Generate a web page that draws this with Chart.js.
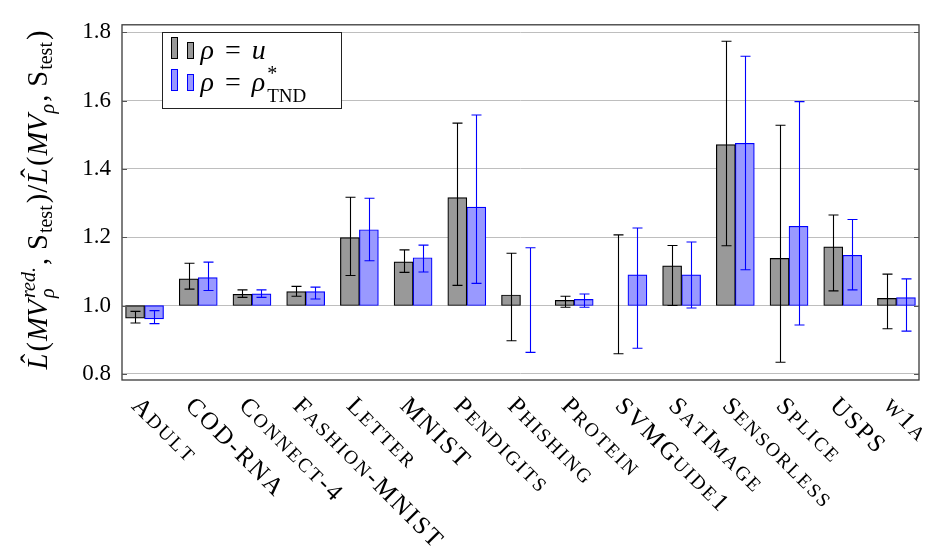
<!DOCTYPE html>
<html><head><meta charset="utf-8">
<script src="https://cdn.jsdelivr.net/npm/chart.js@4/dist/chart.umd.min.js"></script>
<style>html,body{margin:0;padding:0;background:#fff}#wrap{width:925px;height:553px}</style>
</head><body><div id="wrap"><canvas id="c" width="925" height="553"></canvas></div>
<script>
// ---- data ----
const categories = ["Adult","COD-RNA","Connect-4","Fashion-MNIST","Letter","MNIST","Pendigits","Phishing","Protein","SVMGuide1","SatImage","Sensorless","Splice","USPS","w1a"];
const uValues   = [0.963,1.078,1.033,1.041,1.199,1.128,1.316,1.031,1.015,1.000,1.116,1.471,1.138,1.172,1.021];
const uLow      = [0.949,1.048,1.024,1.027,1.088,1.097,1.059,0.897,0.995,0.859,1.000,1.175,0.834,1.043,0.932];
const uHigh     = [0.983,1.124,1.046,1.056,1.317,1.163,1.534,1.153,1.027,1.207,1.176,1.774,1.528,1.265,1.092];
const tndValues = [0.961,1.082,1.034,1.041,1.222,1.140,1.288,1.000,1.018,1.090,1.090,1.475,1.232,1.147,1.023];
const tndLow    = [0.947,1.044,1.024,1.019,1.131,1.098,1.065,0.863,0.995,0.875,0.993,1.105,0.943,1.046,0.925];
const tndHigh   = [0.985,1.127,1.046,1.054,1.314,1.177,1.558,1.169,1.034,1.227,1.186,1.730,1.597,1.252,1.078];
const yTicks = [0.8,1.0,1.2,1.4,1.6,1.8];
const baseline = 1.0;

const SERIF = '"Liberation Serif", "DejaVu Serif", serif';
function fnt(style, size){ return style + ' ' + size + 'px ' + SERIF; }

function layoutRich(ctx, segs){
  let x = 0, prevStart = 0, prevW = 0; const items = [];
  for (const s of segs){
    ctx.font = s.font; const w = ctx.measureText(s.t).width; let sx;
    if (s.over){ sx = prevStart + prevW/2 - w/2; }
    else if (s.stack){ sx = prevStart; const nw = Math.max(prevW, w); x = prevStart + nw; prevW = nw; }
    else { x += (s.gap||0); sx = x; x += w; prevStart = sx; prevW = w; }
    items.push({t:s.t, font:s.font, x:sx, dx:s.dx||0, dy:s.dy||0});
  }
  return {items, width:x};
}
function drawRich(ctx, segs, x0, y0, align){
  const L = layoutRich(ctx, segs); const off = align === 'center' ? -L.width/2 : 0;
  ctx.textAlign = 'left'; ctx.textBaseline = 'alphabetic';
  for (const it of L.items){ ctx.font = it.font; ctx.fillText(it.t, x0 + off + it.x + it.dx, y0 + it.dy); }
}
function drawSmallCaps(ctx, text, x, y, size, spacing){
  let cx = 0; ctx.textAlign = 'left'; ctx.textBaseline = 'alphabetic';
  for (const ch of text){
    const low = ch !== ch.toUpperCase();
    const sz = low ? size*0.78 : size; ctx.font = fnt('normal', sz);
    const c = ch.toUpperCase(); ctx.fillText(c, x + cx, y);
    cx += ctx.measureText(c).width + spacing;
  }
}

const errorBars = {
  id:'errorBars',
  afterDatasetsDraw(chart){
    const ctx = chart.ctx, ys = chart.scales.y;
    chart.data.datasets.forEach((ds, di) => {
      const meta = chart.getDatasetMeta(di);
      meta.data.forEach((bar, i) => {
        const x = Math.round(bar.x) + 0.5;
        const y1 = ys.getPixelForValue(ds.errLow[i]), y2 = ys.getPixelForValue(ds.errHigh[i]);
        ctx.save(); ctx.strokeStyle = ds.errColor; ctx.lineWidth = 1.1;
        ctx.beginPath();
        ctx.moveTo(x, y1); ctx.lineTo(x, y2);
        ctx.moveTo(x-5, y1); ctx.lineTo(x+5, y1);
        ctx.moveTo(x-5, y2); ctx.lineTo(x+5, y2);
        ctx.stroke(); ctx.restore();
      });
    });
  }
};

const decorations = {
  id:'decorations',
  afterDraw(chart){
    const ctx = chart.ctx, a = chart.chartArea, ys = chart.scales.y, xs = chart.scales.x;
    ctx.save();
    // frame
    ctx.strokeStyle = '#3a3a3a'; ctx.lineWidth = 1.3;
    ctx.strokeRect(a.left, a.top, a.right - a.left, a.bottom - a.top);
    // inner tick marks
    ctx.lineWidth = 1; ctx.strokeStyle = '#555';
    ctx.beginPath();
    yTicks.forEach(v => { const y = Math.round(ys.getPixelForValue(v)) + 0.5;
      ctx.moveTo(a.left, y); ctx.lineTo(a.left + 5, y);
      ctx.moveTo(a.right - 5, y); ctx.lineTo(a.right, y); });
    ctx.stroke();
    // category labels (small caps, rotated)
    ctx.fillStyle = '#000';
    categories.forEach((c, i) => {
      const px = xs.getPixelForValue(i);
      ctx.save(); ctx.translate(px - 14, a.bottom + 27); ctx.rotate(Math.PI/4);
      drawSmallCaps(ctx, c, 0, 0, 25, 2.2);
      ctx.restore();
    });
    // y title
    const S = 28.5, s = 20;
    const titleSegs = [
      {t:'L', font:fnt('italic', S)}, {t:'ˆ', font:fnt('normal', S), over:true, dx:3, dy:-6},
      {t:'(', font:fnt('normal', S), gap:2},
      {t:'MV', font:fnt('italic', S), gap:1},
      {t:'red.', font:fnt('italic', s), dy:-12, gap:2},
      {t:'ρ', font:fnt('italic', s), dy:7, stack:true},
      {t:',', font:fnt('normal', S), gap:2},
      {t:'S', font:fnt('normal', S), gap:8},
      {t:'test', font:fnt('normal', s), dy:5, gap:1},
      {t:')', font:fnt('normal', S), gap:2},
      {t:'/', font:fnt('normal', S), gap:1},
      {t:'L', font:fnt('italic', S), gap:1}, {t:'ˆ', font:fnt('normal', S), over:true, dx:3, dy:-6},
      {t:'(', font:fnt('normal', S), gap:2},
      {t:'MV', font:fnt('italic', S), gap:1},
      {t:'ρ', font:fnt('italic', s), dy:7, gap:1},
      {t:',', font:fnt('normal', S), gap:2},
      {t:'S', font:fnt('normal', S), gap:8},
      {t:'test', font:fnt('normal', s), dy:5, gap:1},
      {t:')', font:fnt('normal', S), gap:2}
    ];
    ctx.save(); ctx.translate(46.5, 200); ctx.rotate(-Math.PI/2);
    drawRich(ctx, titleSegs, 0, 0, 'center');
    ctx.restore();
    // legend
    ctx.fillStyle = '#fff'; ctx.fillRect(162.5, 32.5, 179, 76);
    ctx.strokeStyle = '#222'; ctx.lineWidth = 1; ctx.strokeRect(162.5, 32.5, 179, 76);
    const icon = (x, y, w, h, fill, stroke) => { ctx.fillStyle = fill; ctx.fillRect(x, y, w, h); ctx.strokeStyle = stroke; ctx.strokeRect(x, y, w, h); };
    const ds = chart.data.datasets;
    icon(171.5, 37.5, 6, 21, ds[0].backgroundColor, ds[0].borderColor);
    icon(187.5, 42.5, 6, 16, ds[0].backgroundColor, ds[0].borderColor);
    icon(171.5, 69.5, 6, 21, ds[1].backgroundColor, ds[1].borderColor);
    icon(187.5, 74.5, 6, 16, ds[1].backgroundColor, ds[1].borderColor);
    ctx.fillStyle = '#000';
    const L = 28;
    drawRich(ctx, [
      {t:'ρ', font:fnt('italic', L)}, {t:'=', font:fnt('normal', L), gap:11}, {t:'u', font:fnt('italic', L), gap:11}
    ], 200.5, 58.7, 'left');
    drawRich(ctx, [
      {t:'ρ', font:fnt('italic', L)}, {t:'=', font:fnt('normal', L), gap:11}, {t:'ρ', font:fnt('italic', L), gap:11},
      {t:'*', font:fnt('normal', 20), dy:-11, gap:2}, {t:'TND', font:fnt('normal', 19), dy:11, stack:true}
    ], 200.5, 90.7, 'left');
    ctx.restore();
  }
};

const ctx = document.getElementById('c').getContext('2d');
new Chart(ctx, {
  type:'bar',
  data:{ datasets:[
    { label:'ρ = u', data: categories.map((c,i) => ({x:i, y:[baseline, uValues[i]]})),
      backgroundColor:'rgb(153,153,153)', borderColor:'#000', borderWidth:1.2, borderSkipped:false,
      barThickness:19, errLow:uLow, errHigh:uHigh, errColor:'#000' },
    { label:'ρ = ρ*TND', data: categories.map((c,i) => ({x:i, y:[baseline, tndValues[i]]})),
      backgroundColor:'rgb(153,153,255)', borderColor:'rgb(0,0,255)', borderWidth:1.2, borderSkipped:false,
      barThickness:19, errLow:tndLow, errHigh:tndHigh, errColor:'rgb(0,0,255)' }
  ]},
  options:{
    responsive:false, animation:false, devicePixelRatio:1,
    layout:{padding:{top:8, right:6, left:0, bottom:0}},
    plugins:{legend:{display:false}, tooltip:{enabled:false}},
    scales:{
      x:{ type:'linear', min:-0.42, max:14.42, offset:false,
          grid:{display:false}, border:{display:false}, ticks:{display:false},
          afterFit(s){ s.height = 173; } },
      y:{ min:0.782, max:1.822,
          grid:{color:'rgb(190,190,190)', lineWidth:1, drawTicks:false},
          border:{display:false},
          ticks:{ includeBounds:false, padding:11, color:'#000',
                  font:{family:SERIF, size:23}, callback:v => Number(v).toFixed(1) },
          afterBuildTicks(s){ s.ticks = yTicks.map(v => ({value:v})); },
          afterFit(s){ s.width = 122; } }
    }
  },
  plugins:[errorBars, decorations]
});
</script>
</body></html>
